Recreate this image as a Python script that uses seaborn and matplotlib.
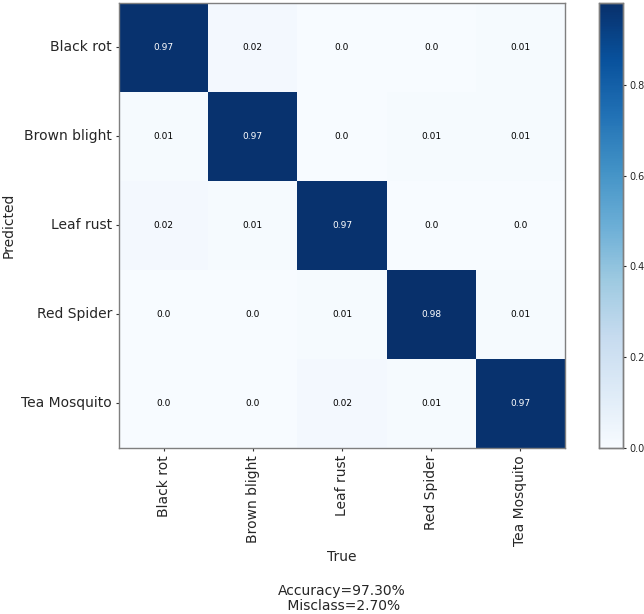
import numpy as np
import pandas as pd
import matplotlib
matplotlib.use("Agg")
import matplotlib.pyplot as plt
import seaborn as sns

classes = ["Black rot", "Brown blight", "Leaf rust", "Red Spider", "Tea Mosquito"]
row_black_rot = [0.97, 0.02, 0.0, 0.0, 0.01]
row_brown_blight = [0.01, 0.97, 0.0, 0.01, 0.01]
row_leaf_rust = [0.02, 0.01, 0.97, 0.0, 0.0]
row_red_spider = [0.0, 0.0, 0.01, 0.98, 0.01]
row_tea_mosquito = [0.0, 0.0, 0.02, 0.01, 0.97]
cbar_ticks = [0.0, 0.2, 0.4, 0.6, 0.8]
accuracy = 97.30
misclass = 2.70

cm = pd.DataFrame([row_black_rot, row_brown_blight, row_leaf_rust,
                   row_red_spider, row_tea_mosquito],
                  index=classes, columns=classes)

sns.set_style("white")
plt.rcParams['font.family'] = ['DejaVu Sans']

fig = plt.figure(figsize=(6.44, 6.14), dpi=100)
ax = fig.add_axes([0.1848, 0.2704, 0.6925, 0.7248])
cax = fig.add_axes([0.930, 0.2704, 0.0373, 0.7248])

sns.heatmap(cm, cmap="Blues", vmin=0.0, vmax=cm.values.max(), annot=False,
            cbar=True, cbar_ax=cax, ax=ax)

# annotate cells, white text on dark cells
thresh = cm.values.max() / 2
for i in range(len(classes)):
    for j in range(len(classes)):
        v = cm.values[i, j]
        ax.text(j + 0.5, i + 0.5, str(v), ha="center", va="center", fontsize=6.5,
                color="white" if v > thresh else "black")

for s in ax.spines.values():
    s.set_visible(True)
    s.set_color("#7f7f7f")
    s.set_linewidth(1.0)

ax.tick_params(axis="both", which="both", length=2.5, width=0.8, color="#333333",
               pad=2.5, left=True, bottom=True, labelsize=10)
ax.set_xticklabels(classes, rotation=90)
ax.set_yticklabels(classes, rotation=0)
ax.set_xlabel("True", fontsize=10, labelpad=3)
ax.set_ylabel("Predicted", fontsize=10, labelpad=4)

cax.set_yticks(cbar_ticks)
cax.set_yticklabels([f"{t:.1f}" for t in cbar_ticks])
cax.tick_params(labelsize=7, length=2.5, width=0.8, pad=2, right=True)
for s in cax.spines.values():
    s.set_visible(True)
    s.set_color("#7f7f7f")
    s.set_linewidth(1.0)

fig.text(0.531, 1 - 591 / 614, f"Accuracy={accuracy:.2f}%", ha="center", va="center", fontsize=10)
fig.text(0.531, 1 - 606 / 614, f" Misclass={misclass:.2f}%", ha="center", va="center", fontsize=10)

fig.savefig("out.png", dpi=100)
